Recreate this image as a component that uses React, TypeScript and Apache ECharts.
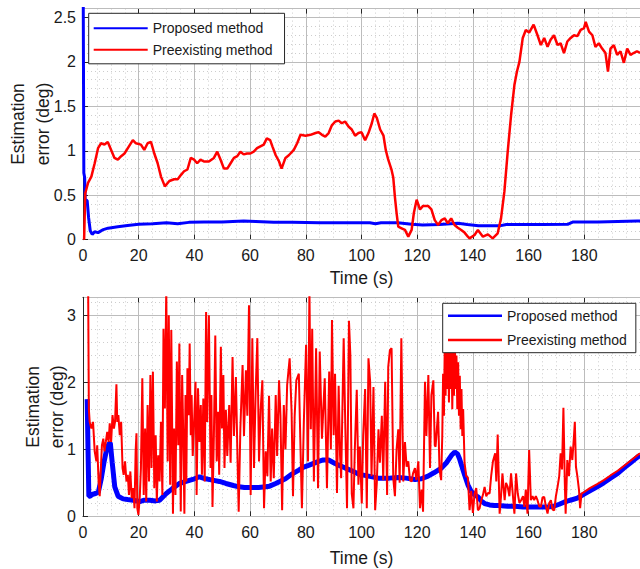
import React, { useEffect, useRef } from 'react';
import * as echarts from 'echarts';

const FONT = '"Liberation Sans", Arial, Helvetica, sans-serif';

const xTickLabels = [0, 20, 40, 60, 80, 100, 120, 140, 160, 180];
const topYTickLabels = [0, 0.5, 1, 1.5, 2, 2.5];
const bottomYTickLabels = [0, 1, 2, 3];
const legendNames = ['Proposed method', 'Preexisting method'];
const xTitle = 'Time (s)';
const yTitleLines = ['Estimation', 'error (deg)'];

// [time (s), error (deg)]
const topBlue: [number, number][] = [
  [0, 3.5], [0.3, 0.75], [0.6, 0.7], [0.8, 0.45], [1.5, 0.44], [2.0, 0.25], [2.6, 0.1], [3.3, 0.06],
  [4.2, 0.09], [5.4, 0.08], [7, 0.11], [9, 0.13], [12.5, 0.146], [16, 0.16], [20, 0.173], [25, 0.18],
  [30, 0.19], [34, 0.18], [38, 0.195], [43.5, 0.2], [50, 0.2], [57.7, 0.21], [62, 0.205], [68.5, 0.196],
  [75, 0.195], [85, 0.19], [95, 0.19], [103, 0.19], [105, 0.18], [107, 0.19], [113, 0.19], [118, 0.175],
  [122, 0.165], [128, 0.17], [134.6, 0.185], [138, 0.17], [142, 0.158], [150, 0.158], [152, 0.172],
  [165, 0.17], [174, 0.173], [176, 0.2], [185, 0.2], [199, 0.21], [200, 0.21],
];

const topRed: [number, number][] = [
  [0.4, 0], [0.8, 0.52], [1.8, 0.64], [3.0, 0.71], [4.2, 0.86], [5.4, 1.03], [6.5, 1.085], [7.7, 1.07],
  [8.9, 1.1], [10.1, 1.01], [11.3, 0.92], [12.5, 0.9], [13.7, 0.94], [14.9, 0.97], [16.1, 1.03], [17.9, 1.12],
  [19.0, 1.085], [20.8, 1.07], [22.0, 1.01], [23.2, 1.085], [24.4, 1.1], [25.6, 0.97], [26.8, 0.86], [28.0, 0.71],
  [29.4, 0.6], [31.0, 0.66], [32.7, 0.68], [34.0, 0.68], [35.2, 0.73], [36.3, 0.77], [37.5, 0.79], [38.7, 0.92],
  [39.9, 0.9], [41.0, 0.86], [42.2, 0.9], [43.4, 0.88], [45.2, 0.88], [47.0, 0.92], [48.2, 0.99], [49.4, 0.9],
  [50.6, 0.8], [51.8, 0.8], [53.0, 0.86], [54.2, 0.92], [55.4, 0.94], [56.5, 0.99], [57.7, 0.96], [58.9, 0.97],
  [60.1, 0.97], [61.3, 0.99], [62.5, 1.03], [63.7, 1.05], [64.9, 1.07], [66.0, 1.14], [67.2, 1.12], [68.0, 1.05],
  [69.2, 0.95], [70.4, 0.88], [71.3, 0.8], [72.7, 0.92], [73.9, 0.95], [75.7, 1.01], [76.9, 1.085], [78.1, 1.18],
  [79.9, 1.17], [81.7, 1.18], [83.5, 1.2], [84.6, 1.21], [85.8, 1.18], [87.0, 1.16], [88.2, 1.2], [89.4, 1.29],
  [90.6, 1.33], [91.8, 1.34], [92.9, 1.31], [94.1, 1.33], [95.4, 1.27], [96.5, 1.24], [97.7, 1.17], [98.9, 1.2],
  [100.0, 1.21], [101.3, 1.12], [102.5, 1.2], [103.7, 1.31], [104.6, 1.42], [105.5, 1.37], [106.7, 1.24],
  [107.9, 1.17], [108.7, 1.01], [109.6, 0.9], [110.8, 0.785], [111.4, 0.7], [112.0, 0.48], [112.6, 0.3],
  [113.2, 0.146], [114.4, 0.128], [115.6, 0.11], [116.8, 0.034], [118.0, 0.11], [118.8, 0.3], [119.8, 0.45],
  [121.0, 0.34], [122.1, 0.38], [123.9, 0.38], [125.1, 0.34], [126.3, 0.22], [127.5, 0.165], [128.7, 0.22],
  [129.9, 0.24], [131.0, 0.185], [132.2, 0.24], [133.4, 0.165], [134.6, 0.135], [135.8, 0.11], [137.0, 0.08],
  [138.2, 0.034], [138.8, 0.015], [140.6, 0.053], [141.8, 0.11], [143.6, 0.034], [145.4, 0.06], [147.1, 0.015],
  [148.9, 0.072], [150.1, 0.24], [151.3, 0.54], [152.5, 0.99], [153.7, 1.4], [154.9, 1.74], [155.8, 1.89],
  [156.7, 2.0], [157.9, 2.27], [159.0, 2.36], [160.2, 2.33], [161.8, 2.42], [163.2, 2.3], [164.4, 2.19],
  [165.6, 2.27], [166.8, 2.17], [167.9, 2.25], [169.1, 2.3], [170.4, 2.19], [171.5, 2.21], [172.7, 2.1],
  [173.9, 2.23], [175.1, 2.27], [176.3, 2.3], [177.5, 2.29], [178.7, 2.36], [179.9, 2.38], [180.5, 2.45],
  [181.7, 2.34], [182.9, 2.3], [184.0, 2.17], [185.2, 2.21], [186.4, 2.15], [187.6, 2.1], [188.5, 1.89],
  [189.4, 2.15], [190.6, 2.19], [191.8, 2.08], [193.0, 2.12], [194.2, 1.99], [195.4, 2.15], [196.6, 2.08],
  [197.7, 2.1], [198.9, 2.12], [200, 2.1],
];

const bottomBlue: [number, number][] = [
  [1.5, 1.75], [1.8, 1.0], [2.1, 0.3], [2.5, 0.3], [3.5, 0.33], [4.5, 0.34], [5.5, 0.36], [6.5, 0.55],
  [7.5, 0.8], [8.5, 1.0], [9.3, 1.08], [9.8, 1.1], [10.5, 0.8], [11.4, 0.44], [12.6, 0.3], [14.4, 0.26],
  [16, 0.25], [18, 0.24], [20.4, 0.22], [22, 0.24], [24, 0.24], [26, 0.23], [27.5, 0.24], [29.9, 0.34],
  [32, 0.41], [34.6, 0.49], [37, 0.52], [39.4, 0.55], [41.8, 0.59], [44, 0.56], [46.5, 0.54], [49, 0.52],
  [51.3, 0.49], [54, 0.46], [56, 0.44], [58, 0.43], [60.5, 0.43], [63, 0.43], [65.6, 0.44], [67, 0.45],
  [69.2, 0.49], [72.7, 0.56], [75, 0.63], [77.5, 0.69], [79, 0.73], [81, 0.76], [84.6, 0.82], [86, 0.84],
  [88.2, 0.84], [90, 0.8], [92, 0.76], [94.2, 0.72], [96.5, 0.68], [98.9, 0.63], [102.5, 0.6], [106, 0.57],
  [110, 0.57], [113.2, 0.58], [116, 0.57], [119.2, 0.55], [121.5, 0.56], [123.9, 0.6], [126, 0.65],
  [128.7, 0.72], [130.5, 0.8], [132.3, 0.91], [133.5, 0.96], [134.5, 0.93], [135.2, 0.86], [136, 0.75],
  [137, 0.62], [138.2, 0.47], [139.4, 0.37], [140.6, 0.32], [141.8, 0.29], [143, 0.23], [144.2, 0.19],
  [146, 0.17], [147.7, 0.16], [149, 0.16], [152.5, 0.15], [155, 0.15], [158, 0.14], [160.8, 0.14],
  [163, 0.14], [166.8, 0.14], [169, 0.15], [171, 0.18], [172.7, 0.21], [175, 0.24], [177.5, 0.27],
  [179.9, 0.33], [182, 0.38], [184.6, 0.44], [187, 0.5], [189.4, 0.57], [192, 0.64], [194.2, 0.72],
  [196.6, 0.8], [199, 0.88], [200, 0.91],
];

const bottomRed: [number, number][] = [
  [1.7, 4.5], [2.1, 1.6], [2.4, 1.41], [3.0, 1.31], [3.6, 1.41], [4.2, 0.97], [4.8, 0.82], [5.1, 1.06],
  [5.6, 0.52], [6.0, 0.3], [6.3, 0.62], [6.8, 1.06], [7.3, 1.16], [7.7, 0.97], [8.2, 1.11], [8.7, 1.26],
  [9.2, 1.11], [9.6, 1.39], [10.1, 1.11], [10.6, 1.51], [11.1, 1.31], [11.5, 1.41], [12.0, 1.97], [12.3, 1.41],
  [12.7, 1.51], [13.2, 1.21], [13.7, 1.41], [14.2, 0.72], [14.6, 0.62], [15.1, 0.82], [15.6, 0.52], [16.1, 0.62],
  [16.5, 0.32], [17.0, 0.67], [17.5, 0.27], [18.0, 0.42], [18.5, 0.12], [18.9, 0.97], [19.2, 1.24], [19.5, 0.12],
  [19.9, 0.02], [20.4, 0.3], [20.8, 0.72], [21.3, 2.06], [21.8, 0.32], [22.3, 1.31], [22.7, 0.22], [23.2, 1.66],
  [23.7, 0.52], [24.2, 2.11], [24.6, 0.72], [25.1, 2.16], [25.6, 0.42], [26.1, 1.21], [26.5, 0.22], [27.0, 0.91],
  [27.5, 0.52], [28.0, 1.41], [28.5, 0.32], [28.9, 2.8], [29.4, 1.61], [29.9, 3.4], [30.4, 0.82], [30.8, 3.0],
  [31.3, 0.47], [31.7, 2.78], [32.3, 0.04], [32.7, 1.31], [33.2, 0.32], [33.7, 2.31], [34.2, 1.06], [34.6, 2.58],
  [35.1, 0.07], [35.6, 2.11], [36.0, 1.21], [36.4, 0.04], [36.8, 1.81], [37.1, 0.52], [37.5, 2.21], [38.0, 1.51],
  [38.3, 2.58], [38.7, 1.21], [39.0, 1.81], [39.4, 0.9], [39.9, 1.41], [40.4, 2.01], [40.8, 0.32], [41.3, 1.91],
  [41.8, 1.11], [42.3, 1.66], [42.7, 0.62], [43.2, 1.76], [43.7, 0.52], [44.2, 3.05], [44.6, 1.41], [45.2, 3.0],
  [45.8, 0.72], [46.1, 1.81], [46.5, 0.14], [47.0, 1.21], [47.5, 2.7], [48.0, 0.82], [48.5, 1.56], [48.9, 0.62],
  [49.5, 2.53], [49.9, 1.31], [50.4, 2.11], [50.8, 0.72], [51.3, 1.59], [51.8, 0.9], [52.5, 1.66], [53.0, 0.8],
  [53.7, 2.38], [54.2, 1.2], [54.9, 2.08], [55.5, 0.82], [55.9, 0.07], [56.5, 1.3], [57.3, 2.26], [57.8, 1.2],
  [58.5, 2.18], [59.0, 1.5], [59.6, 3.15], [60.2, 0.32], [60.8, 2.66], [61.4, 0.72], [62.0, 1.86], [62.6, 2.66],
  [63.2, 0.82], [63.8, 1.6], [64.4, 2.03], [65.0, 0.12], [65.6, 0.97], [66.2, 0.6], [66.8, 1.8], [67.4, 0.52],
  [67.9, 1.31], [68.5, 0.57], [69.2, 1.81], [69.7, 0.9], [70.4, 2.03], [70.9, 1.5], [71.5, 0.09], [72.1, 1.66],
  [72.7, 1.0], [73.3, 1.96], [74.2, 2.36], [74.9, 1.56], [75.4, 0.3], [76.0, 1.5], [76.6, 2.03], [77.5, 2.13],
  [78.0, 1.2], [78.6, 0.12], [79.3, 1.41], [80.1, 2.56], [80.8, 0.82], [81.3, 3.4], [81.8, 1.3], [82.3, 2.8],
  [82.9, 0.52], [83.7, 2.51], [84.4, 0.42], [85.0, 2.46], [85.8, 1.16], [86.8, 2.06], [87.6, 0.42], [88.4, 2.16],
  [89.0, 1.0], [89.4, 2.93], [90.0, 1.21], [90.5, 2.13], [91.2, 0.35], [91.8, 1.95], [92.3, 0.9], [92.7, 0.57],
  [93.6, 2.66], [94.2, 1.31], [94.8, 0.12], [95.5, 2.92], [96.0, 2.4], [96.5, 0.34], [97.1, 0.12], [97.6, 1.0],
  [98.3, 1.89], [98.9, 0.47], [99.4, 1.04], [100.1, 0.19], [100.6, 1.21], [101.3, 1.9], [101.9, 0.12], [102.5, 2.36],
  [103.1, 2.01], [103.6, 0.6], [104.3, 1.93], [104.9, 0.09], [105.5, 0.5], [106.1, 1.3], [106.6, 0.8], [107.3, 1.5],
  [107.8, 0.54], [108.5, 2.01], [109.2, 0.32], [109.6, 2.23], [110.2, 2.48], [110.8, 2.51], [111.4, 0.57],
  [112.0, 0.3], [112.6, 1.0], [113.2, 1.3], [113.7, 0.5], [114.3, 2.66], [115.0, 0.52], [115.6, 1.11],
  [116.2, 0.74], [116.8, 0.82], [117.4, 0.54], [118.0, 0.52], [118.5, 0.64], [119.2, 0.72], [119.7, 0.54],
  [120.4, 0.82], [121.0, 0.12], [121.6, 0.4], [122.1, 0.07], [122.8, 2.01], [123.3, 1.2], [124.0, 2.11],
  [124.6, 0.72], [125.1, 1.81], [125.8, 2.03], [126.3, 1.06], [126.6, 1.04], [127.5, 1.56], [128.0, 0.7],
  [128.6, 0.54], [129.0, 1.2], [129.3, 2.13], [129.6, 1.5], [129.9, 2.6], [130.2, 1.8], [130.5, 2.9],
  [130.8, 1.9], [131.1, 2.7], [131.4, 1.7], [131.7, 2.8], [132.0, 1.9], [132.3, 2.6], [132.6, 1.6],
  [132.9, 2.5], [133.2, 1.8], [133.5, 2.7], [133.8, 1.9], [134.1, 2.4], [134.4, 1.6], [134.7, 2.3],
  [135.0, 1.5], [135.3, 2.1], [135.6, 1.3], [135.9, 1.9], [136.2, 1.2], [136.5, 1.6], [137.0, 0.8],
  [137.6, 0.6], [138.2, 0.58], [138.8, 0.09], [139.4, 0.38], [140.0, 0.05], [140.6, 0.34],
  [141.2, 0.42], [141.8, 0.09], [142.4, 0.12], [143.0, 0.24], [143.6, 0.32], [144.2, 0.44], [144.8, 0.3],
  [145.4, 0.35], [146.0, 0.34], [146.6, 0.62], [147.2, 0.82], [148.0, 0.94], [148.4, 0.52], [148.9, 1.22],
  [149.6, 0.04], [150.1, 0.3], [150.6, 0.64], [151.4, 0.24], [151.9, 0.5], [152.5, 0.44], [153.1, 0.3],
  [153.7, 0.64], [154.3, 0.34], [154.9, 0.04], [155.5, 0.64], [156.1, 0.34], [156.7, 0.2], [157.3, 0.24],
  [158.0, 0.3], [158.5, 0.14], [159.0, 0.4], [159.6, 0.04], [160.2, 0.99], [160.8, 0.24], [161.4, 0.3],
  [162.0, 0.24], [162.6, 0.3], [163.2, 0.24], [163.8, 0.15], [164.4, 0.14], [165.0, 0.28], [165.6, 0.29],
  [166.2, 0.15], [166.8, 0.04], [167.4, 0.2], [168.0, 0.24], [168.6, 0.1], [169.2, 0.09], [169.8, 0.3],
  [170.4, 0.44], [171.0, 0.6], [171.5, 0.94], [172.0, 0.7], [172.5, 1.62], [173.0, 0.5], [173.3, 0.04],
  [173.9, 0.84], [174.5, 0.6], [175.1, 1.04], [175.7, 0.84], [176.3, 1.2], [176.6, 1.41], [177.0, 0.74],
  [177.5, 0.6], [178.1, 0.39], [178.5, 0.12], [179.0, 0.34], [179.9, 0.36], [182.0, 0.42], [184.6, 0.48],
  [187.0, 0.54], [189.4, 0.61], [192.0, 0.68], [194.2, 0.75], [196.6, 0.83], [199.0, 0.91], [200, 0.94],
];

const TEXT = '#1a1a1a';
const AXIS = '#262626';
const MAJOR = '#bcbcbc';
const MINOR = '#cdcdcd';

function fmt(list: number[]) {
  return (v: number) => (list.some((t) => Math.abs(t - v) < 1e-6) ? String(v) : '');
}

function mkX(gridIndex: number, position: 'top' | 'bottom', main: boolean, nameGap = 30) {
  return {
    type: 'value',
    gridIndex,
    position,
    min: 0,
    max: 200,
    interval: 20,
    axisLine: { show: true, onZero: false, lineStyle: { color: AXIS, width: 1 } },
    axisTick: { show: true, inside: true, length: 5, lineStyle: { color: AXIS } },
    axisLabel: main
      ? { show: true, fontSize: 16, color: TEXT, fontFamily: FONT, margin: 8, showMaxLabel: false, formatter: fmt(xTickLabels) }
      : { show: false },
    splitLine: main ? { show: true, lineStyle: { color: MAJOR, width: 1 } } : { show: false },
    minorTick: { show: false, splitNumber: 4 },
    minorSplitLine: main ? { show: true, lineStyle: { color: MINOR, width: 1, type: [1, 3] } } : { show: false },
    name: main ? xTitle : '',
    nameLocation: 'middle',
    nameGap,
    nameTextStyle: { fontSize: 17.5, color: TEXT, fontFamily: FONT },
  };
}

function mkYMajor(gridIndex: number, max: number, interval: number, labels: number[]) {
  return {
    type: 'value',
    gridIndex,
    position: 'left',
    min: 0,
    max,
    interval,
    axisLine: { show: true, onZero: false, lineStyle: { color: AXIS, width: 1 } },
    axisTick: { show: true, inside: true, length: 5, lineStyle: { color: AXIS } },
    axisLabel: { show: true, fontSize: 16, color: TEXT, fontFamily: FONT, margin: 7, showMaxLabel: false, formatter: fmt(labels) },
    splitLine: { show: true, lineStyle: { color: MAJOR, width: 1 } },
    z: 1,
  };
}

function mkYMinor(gridIndex: number, max: number, interval: number) {
  return {
    type: 'value',
    gridIndex,
    position: 'left',
    min: 0,
    max,
    interval,
    axisLine: { show: false },
    axisTick: { show: false },
    axisLabel: { show: false },
    splitLine: { show: true, lineStyle: { color: MINOR, width: 1, type: [1, 3] } },
    z: 0,
  };
}

function mkLegend(left: number, top: number, padding: number[], itemGap: number, iconH: number) {
  return {
    orient: 'vertical',
    left,
    top,
    padding,
    itemGap,
    itemWidth: 54,
    itemHeight: iconH,
    icon: 'rect',
    selectedMode: false,
    data: legendNames,
    backgroundColor: '#ffffff',
    borderColor: AXIS,
    borderWidth: 1,
    borderRadius: 0,
    textStyle: { fontSize: 14, lineHeight: 14, color: TEXT, fontFamily: FONT },
    z: 10,
  };
}

function yTitle(cx1: number, cx2: number, cy: number) {
  return [yTitleLines[0], yTitleLines[1]].map((t, i) => ({
    type: 'text',
    x: i === 0 ? cx1 : cx2,
    y: cy,
    rotation: Math.PI / 2,
    style: { text: t, fontSize: 17.5, fontFamily: FONT, fill: TEXT, align: 'center', verticalAlign: 'middle' },
  }));
}

export default function App() {
  const ref = useRef<HTMLDivElement>(null);
  useEffect(() => {
    if (!ref.current) return;
    const chart = echarts.init(ref.current, undefined, { renderer: 'svg' });
    const line = (name: string, data: [number, number][], xi: number, yi: number, color: string, width: number, z: number) => ({
      type: 'line',
      name,
      data,
      xAxisIndex: xi,
      yAxisIndex: yi,
      symbol: 'none',
      showSymbol: false,
      clip: true,
      lineStyle: { color, width },
      itemStyle: { color },
      z,
      silent: true,
    });
    chart.setOption({
      animation: false,
      backgroundColor: '#ffffff',
      grid: [
        { left: 83, top: 8.6, width: 560, height: 231.1 },
        { left: 83, top: 297.3, width: 560, height: 219 },
      ],
      xAxis: [mkX(0, 'bottom', true, 29), mkX(0, 'top', false), mkX(1, 'bottom', true, 33), mkX(1, 'top', false)],
      yAxis: [mkYMajor(0, 2.6, 0.5, topYTickLabels), mkYMinor(0, 2.6, 0.1), mkYMajor(1, 3.27, 1, bottomYTickLabels), mkYMinor(1, 3.27, 0.2)],
      legend: [mkLegend(88.7, 13.3, [8, 12, 7, 5], 7.5, 2), mkLegend(442.7, 303.3, [5.4, 9, 5.7, 5.3], 10.3, 2.5)],
      graphic: [...yTitle(17.5, 43, 124), ...yTitle(33, 56.5, 406.8)],
      series: [
        line(legendNames[0], topBlue, 0, 0, '#0000ff', 3, 3),
        line(legendNames[1], topRed, 0, 0, '#ff0000', 2.5, 4),
        line(legendNames[0], bottomBlue, 2, 2, '#0000ff', 5, 3),
        line(legendNames[1], bottomRed, 2, 2, '#ff0000', 2, 4),
      ],
    });
    return () => chart.dispose();
  }, []);
  return <div ref={ref} style={{ position: 'absolute', left: 0, top: 0, width: 640, height: 569 }} />;
}
